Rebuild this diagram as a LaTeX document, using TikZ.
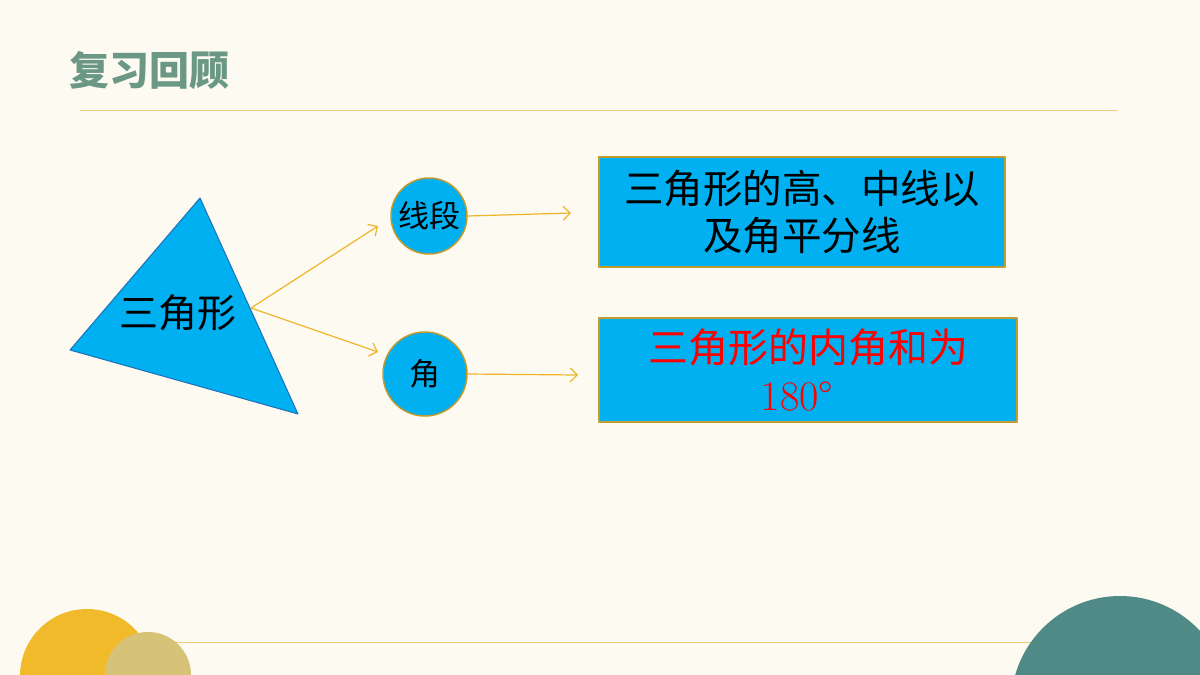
\documentclass[tikz,border=0pt]{standalone}
\usepackage{fontspec}
\newfontfamily\cjk{Noto Sans CJK SC}
\newfontfamily\lmr{Latin Modern Roman}
\usetikzlibrary{arrows.meta}
\definecolor{bgcream}{HTML}{FDFAF2}
\definecolor{titlegreen}{HTML}{6A9884}
\definecolor{lineyellow}{HTML}{EDCB7A}
\definecolor{cyanfill}{HTML}{00B0F0}
\definecolor{triborder}{HTML}{1F70B8}
\definecolor{goldarrow}{HTML}{F0B428}
\definecolor{goldborder}{HTML}{BF9B30}
\definecolor{sunyellow}{HTML}{F0BA2A}
\definecolor{khaki}{HTML}{D7C377}
\definecolor{tealdisk}{HTML}{4F8A87}
\tikzset{
  bubble/.style={circle,draw=goldborder,line width=1.5pt,fill=cyanfill,inner sep=0pt,font=\cjk\fontsize{31}{34}\selectfont},
  infobox/.style={draw=goldborder,line width=1.8pt,fill=cyanfill,inner sep=0pt,align=center,font=\cjk\fontsize{39.5}{47}\selectfont},
  link/.style={goldarrow,line width=1.2pt,->}
}
\begin{document}
\begin{tikzpicture}[x=1pt,y=-1pt,line cap=round,line join=round,>={Straight Barb[length=7pt,width=14pt]}]
	\fill[bgcream] (0,0) rectangle (1200,675);
	\useasboundingbox (0,0) rectangle (1200,675);
	% title and rules
	\node[anchor=west,text=titlegreen,font=\cjk\bfseries\fontsize{40}{42}\selectfont] (title) at (66,71) {复习回顾};
	\draw[lineyellow,line width=1pt] (80,110)--(1117,110);
	\draw[lineyellow,line width=1pt] (175,642)--(1040,642);
	% corner disks
	\fill[sunyellow] (87,676) circle (67);
	\fill[khaki] (148,675) circle (43);
	\fill[tealdisk] (1120,705) circle (109);
	% triangle
	\path (70,350)coordinate(tri-l) (200,198)coordinate(tri-t) (298,414)coordinate(tri-b) (251,308)coordinate(tri-r);
	\draw[triborder,fill=cyanfill,line width=1pt] (tri-l)--(tri-t)--(tri-b)--cycle;
	\node[font=\cjk\fontsize{39}{41}\selectfont] (tri) at (178,313) {三角形};
	% bubbles and boxes
	\node[bubble,minimum size=76pt] (seg) at (429,216) {线段};
	\node[bubble,minimum size=84pt] (ang) at (425,374) {角};
	\node[infobox,minimum width=406pt,minimum height=110pt] (heights) at (802,212) {三角形的高、中线以\\及角平分线};
	\node[infobox,minimum width=418pt,minimum height=104pt,text=red,font=\cjk\fontsize{40}{48}\selectfont] (sum) at (808,370) {三角形的内角和为\\{\lmr\fontsize{42}{48}\selectfont 180°}\hspace*{22pt}};
	% arrows
	\path (378,226)coordinate(seg-in) (378,352)coordinate(ang-in) (571,213)coordinate(heights-in) (578,375)coordinate(sum-in);
	\draw[link] (tri-r)--(seg-in);
	\draw[link] (tri-r)--(ang-in);
	\draw[link] (seg.east)--(heights-in);
	\draw[link] (ang.east)--(sum-in);
\end{tikzpicture}
\end{document}
